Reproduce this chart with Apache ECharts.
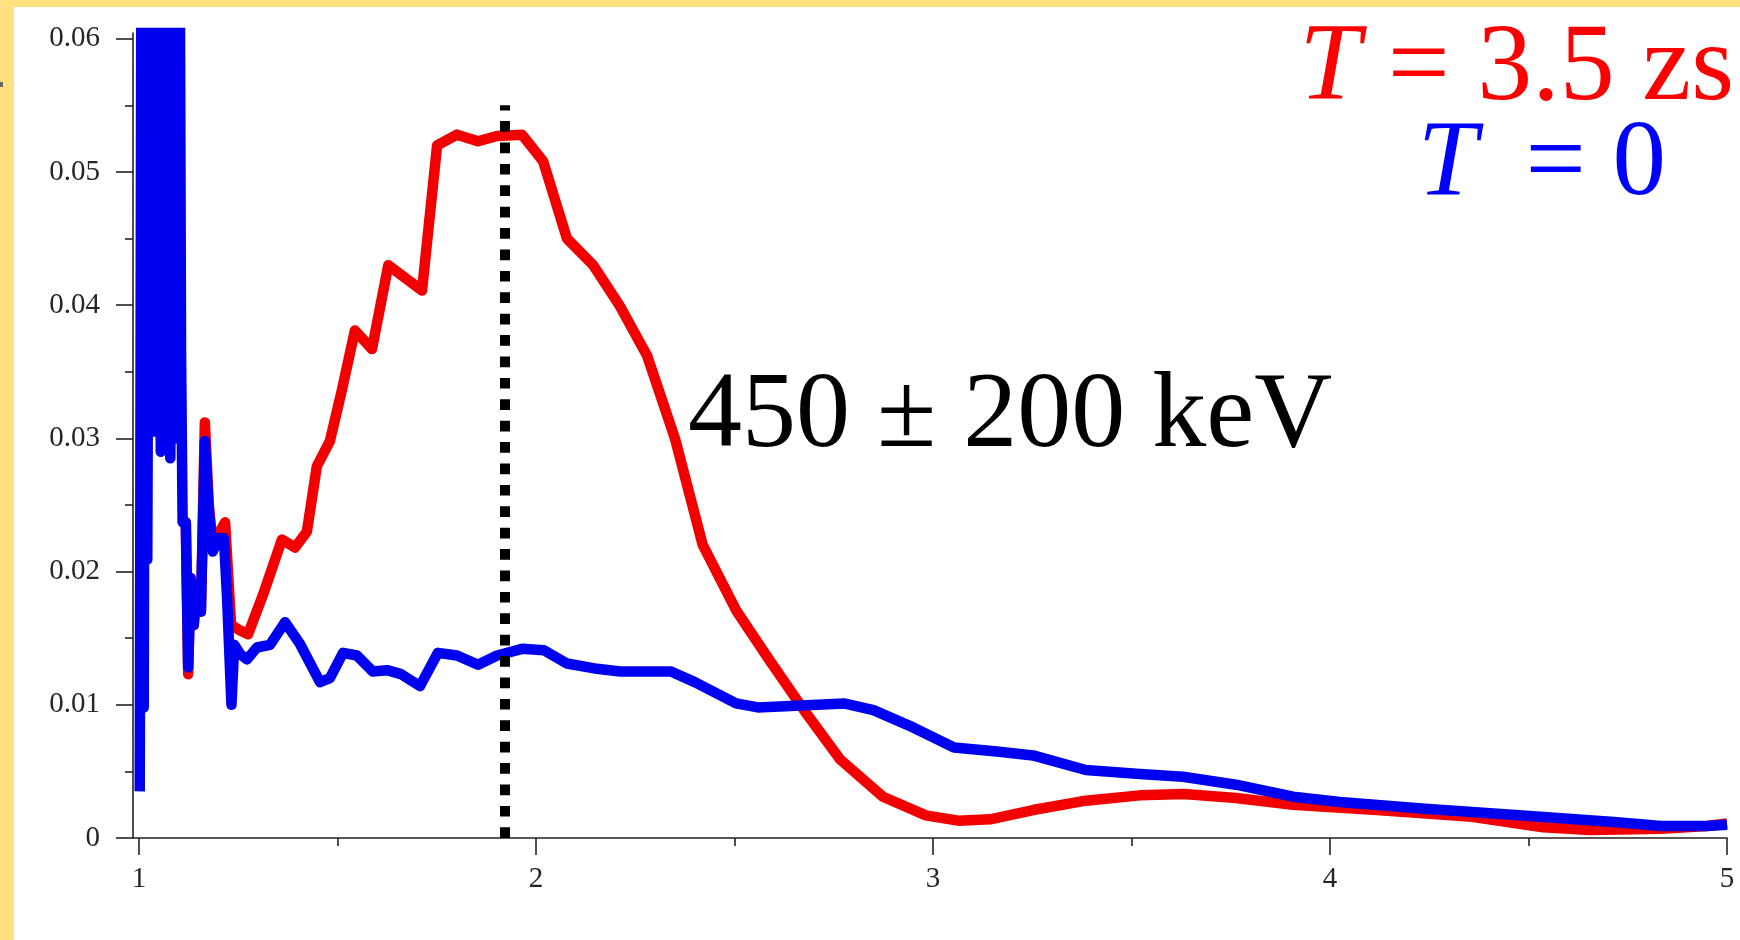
<!DOCTYPE html>
<html>
<head>
<meta charset="utf-8">
<title>T = 3.5 zs / T = 0</title>
<script src="https://cdn.jsdelivr.net/npm/echarts@6/dist/echarts.min.js"></script>
<style>
  html, body { margin: 0; padding: 0; background: #fff; }
  #g-spectrum-chart { width: 1740px; height: 940px; }
</style>
</head>
<body>
<div id="g-spectrum-chart"></div>
<script>
// T = 0 (blue)
const xT0 = [
  1.002, 1.006, 1.012, 1.016, 1.021, 1.026, 1.033, 1.039, 1.045, 1.050,
  1.055, 1.061, 1.067, 1.073, 1.079, 1.085, 1.091, 1.097, 1.103, 1.106,
  1.110, 1.118, 1.124, 1.130, 1.138, 1.146, 1.156, 1.166, 1.176, 1.186,
  1.200, 1.214, 1.222, 1.233, 1.240, 1.255, 1.272, 1.297, 1.330, 1.368,
  1.405, 1.456, 1.481, 1.514, 1.549, 1.589, 1.625, 1.660, 1.708, 1.753,
  1.801, 1.854, 1.902, 1.965, 2.020, 2.078, 2.154, 2.212, 2.340, 2.400,
  2.504, 2.559, 2.776, 2.850, 2.950, 3.053, 3.161, 3.252, 3.385, 3.521,
  3.630, 3.763, 3.907, 4.025, 4.239, 4.476, 4.715, 4.834, 4.950, 5.000
];
const yT0 = [
  0.0035, 0.065, 0.0098, 0.065, 0.0209, 0.065, 0.0305, 0.065, 0.0305, 0.065,
  0.0290, 0.065, 0.0300, 0.065, 0.0285, 0.065, 0.0300, 0.065, 0.065, 0.0365,
  0.0237, 0.0237, 0.0128, 0.0195, 0.0160, 0.0190, 0.0170, 0.0298, 0.0245, 0.0215,
  0.0225, 0.0225, 0.0180, 0.0100, 0.0145, 0.0138, 0.0134, 0.0143, 0.0145, 0.0162,
  0.0146, 0.0117, 0.0120, 0.0139, 0.0137, 0.0125, 0.0126, 0.0123, 0.0114, 0.0139,
  0.0137, 0.0130, 0.0137, 0.0142, 0.0141, 0.0131, 0.0127, 0.0125, 0.0125, 0.0117,
  0.0101, 0.0098, 0.0101, 0.0096, 0.0083, 0.0068, 0.0065, 0.0062, 0.0051, 0.0048,
  0.0046, 0.0040, 0.0031, 0.0027, 0.0022, 0.0017, 0.0012, 0.0009, 0.0009, 0.0010
];

// T = 3.5 zs (red)
const xT35 = [
  1.106, 1.118, 1.124, 1.130, 1.138, 1.146, 1.156, 1.166, 1.176, 1.186,
  1.200, 1.217, 1.232, 1.254, 1.275, 1.313, 1.360, 1.393, 1.423, 1.448,
  1.481, 1.511, 1.544, 1.587, 1.628, 1.713, 1.751, 1.801, 1.854, 1.902,
  1.965, 2.018, 2.078, 2.144, 2.212, 2.280, 2.350, 2.420, 2.504, 2.587,
  2.675, 2.766, 2.874, 2.982, 3.063, 3.144, 3.252, 3.385, 3.521, 3.632,
  3.763, 3.907, 4.118, 4.358, 4.537, 4.655, 4.834, 4.950, 5.000
];
const yT35 = [
  0.0240, 0.0237, 0.0123, 0.0195, 0.0160, 0.0190, 0.0170, 0.0312, 0.0250, 0.0220,
  0.0228, 0.0237, 0.0160, 0.0156, 0.0153, 0.0183, 0.0224, 0.0218, 0.0230, 0.0279,
  0.0298, 0.0336, 0.0381, 0.0367, 0.0430, 0.0411, 0.0520, 0.0528, 0.0523, 0.0527,
  0.0528, 0.0508, 0.0450, 0.0430, 0.0399, 0.0362, 0.0300, 0.0220, 0.0171, 0.0134,
  0.0096, 0.0059, 0.0031, 0.0017, 0.0013, 0.0014, 0.0021, 0.0028, 0.0032, 0.0033,
  0.0030, 0.0025, 0.0021, 0.0016, 0.0008, 0.0006, 0.0007, 0.0009, 0.0011
];

// dotted marker line
const markX = [1.922, 1.922];
const markY = [0, 0.055];

const xTicks = [1, 2, 3, 4, 5];
const xMinorTicks = [1.5, 2.5, 3.5, 4.5];
const yTicks = [0, 0.01, 0.02, 0.03, 0.04, 0.05, 0.06];
const yMinorTicks = [0.005, 0.015, 0.025, 0.035, 0.045, 0.055];

const zip = (xs, ys) => xs.map((x, i) => [x, ys[i]]);

const axisColor = "#222";
const labelFont = { fontFamily: "Liberation Serif", fontSize: 29, color: "#262626" };
const gridBox = { left: 133, top: 33, right: 13, bottom: 102 };
const xRange = { min: 0.985, max: 5 };
const yRange = { min: 0, max: 0.06043 };
const lineW = 10.5;

const option = {
  animation: false,
  backgroundColor: "#fff",
  grid: [
    { ...gridBox },
    { ...gridBox },
  ],
  xAxis: [
    {
      type: "value",
      gridIndex: 0,
      position: "bottom",
      ...xRange,
      axisLine: { show: true, onZero: false, lineStyle: { color: axisColor, width: 1.6 } },
      axisTick: { show: true, customValues: xTicks, length: 17, lineStyle: { color: axisColor, width: 1.6 } },
      axisLabel: { customValues: xTicks, margin: 27, ...labelFont },
      splitLine: { show: false },
    },
    {
      type: "value",
      gridIndex: 1,
      position: "bottom",
      ...xRange,
      axisLine: { show: false, onZero: false },
      axisTick: { show: true, customValues: xMinorTicks, length: 8, lineStyle: { color: axisColor, width: 1.6 } },
      axisLabel: { show: false },
      splitLine: { show: false },
    },
  ],
  yAxis: [
    {
      type: "value",
      gridIndex: 0,
      position: "left",
      ...yRange,
      axisLine: { show: true, onZero: false, lineStyle: { color: axisColor, width: 1.6 } },
      axisTick: { show: true, customValues: yTicks, length: 17, lineStyle: { color: axisColor, width: 1.6 } },
      axisLabel: { customValues: yTicks, margin: 33, ...labelFont },
      splitLine: { show: false },
    },
    {
      type: "value",
      gridIndex: 1,
      position: "left",
      ...yRange,
      axisLine: { show: false, onZero: false },
      axisTick: { show: true, customValues: yMinorTicks, length: 8, lineStyle: { color: axisColor, width: 1.6 } },
      axisLabel: { show: false },
      splitLine: { show: false },
    },
  ],
  series: [
    {
      name: "T = 3.5 zs",
      type: "line",
      xAxisIndex: 0,
      yAxisIndex: 0,
      data: zip(xT35, yT35),
      symbol: "none",
      lineStyle: { color: "#f20000", width: lineW, join: "round", cap: "butt" },
      z: 2,
    },
    {
      name: "T = 0",
      type: "line",
      xAxisIndex: 0,
      yAxisIndex: 0,
      data: zip(xT0, yT0),
      symbol: "none",
      lineStyle: { color: "#0000f0", width: lineW, join: "round", cap: "butt" },
      z: 3,
    },
    {
      name: "peak",
      type: "line",
      xAxisIndex: 0,
      yAxisIndex: 0,
      data: zip(markX, markY),
      symbol: "none",
      lineStyle: { color: "#000", width: 10, type: [10.7, 10.7], cap: "butt" },
      z: 4,
    },
  ],
  graphic: [
    { type: "rect", shape: { x: 0, y: 0, width: 1740, height: 7 }, style: { fill: "#ffe27f" }, z: 10 },
    { type: "rect", shape: { x: 0, y: 0, width: 14, height: 940 }, style: { fill: "#ffe27f" }, z: 10 },
    { type: "rect", shape: { x: 0, y: 82, width: 3, height: 5 }, style: { fill: "#666" }, z: 11 },
    {
      type: "text",
      z: 10,
      style: {
        x: 1734, y: 15,
        text: "{i|T} = 3.5 zs",
        fill: "#ff0000",
        fontFamily: "Liberation Serif",
        fontSize: 110,
        textAlign: "right",
        textVerticalAlign: "top",
        rich: { i: { fontStyle: "italic", fontFamily: "Liberation Serif", fontSize: 110, fill: "#ff0000" } },
      },
    },
    {
      type: "text",
      z: 10,
      style: {
        x: 1666, y: 112,
        text: "{i|T}\u2009 = 0",
        fill: "#0000ff",
        fontFamily: "Liberation Serif",
        fontSize: 107,
        textAlign: "right",
        textVerticalAlign: "top",
        rich: { i: { fontStyle: "italic", fontFamily: "Liberation Serif", fontSize: 107, fill: "#0000ff" } },
      },
    },
    {
      type: "text",
      z: 10,
      style: {
        x: 688, y: 364,
        text: "450 ± 200 keV",
        fill: "#000",
        fontFamily: "Liberation Serif",
        fontSize: 108,
        textAlign: "left",
        textVerticalAlign: "top",
      },
    },
  ],
};

const myChart = echarts.init(document.getElementById("g-spectrum-chart"));
myChart.setOption(option);

window.onresize = function () {
  myChart.resize();
};
</script>
</body>
</html>
